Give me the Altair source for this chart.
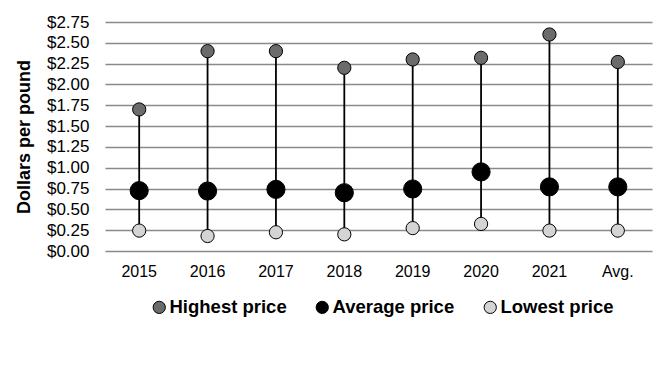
import altair as alt
import pandas as pd

years = ["2015", "2016", "2017", "2018", "2019", "2020", "2021", "Avg."]
highest = [1.70, 2.40, 2.40, 2.20, 2.30, 2.32, 2.60, 2.27]
average = [0.725, 0.72, 0.74, 0.70, 0.745, 0.95, 0.77, 0.77]
lowest = [0.245, 0.18, 0.225, 0.20, 0.275, 0.325, 0.245, 0.245]
series = ["Highest price", "Average price", "Lowest price"]
colors = ["#6b6b6b", "#000000", "#d4d4d4"]
y_ticks = [0.0, 0.25, 0.5, 0.75, 1.0, 1.25, 1.5, 1.75, 2.0, 2.25, 2.5, 2.75]

df = pd.DataFrame({
    "Year": years,
    "Highest price": highest,
    "Average price": average,
    "Lowest price": lowest,
})

FONT = "Liberation Sans"

x_axis = alt.Axis(title=None, labelAngle=0, domain=False, ticks=False,
                  labelFontSize=16, labelPadding=12, labelColor="black",
                  labelFont=FONT, grid=False)
x_scale = alt.Scale(paddingInner=0, paddingOuter=0)

y_axis = alt.Axis(title="Dollars per pound", values=y_ticks, format="$.2f",
                  tickCount=12,
                  grid=True, gridColor="#8a8a8a", gridWidth=1.4,
                  domain=False, ticks=False, labelFontSize=17,
                  labelOverlap=False, labelBound=False,
                  labelPadding=16, labelColor="black", labelFont=FONT,
                  titleFont=FONT, titleFontSize=18, titleFontWeight="bold",
                  titleColor="black", titlePadding=13)
y_scale = alt.Scale(domain=[0, 2.75], nice=False, zero=True)

rules = alt.Chart(df).mark_rule(color="black", strokeWidth=1.8).encode(
    x=alt.X("Year:N", sort=years, scale=x_scale, axis=x_axis),
    y=alt.Y("Lowest price:Q", scale=y_scale, axis=y_axis),
    y2="Highest price:Q",
)

points = alt.Chart(df).transform_fold(
    series, as_=["Series", "Value"]
).mark_circle(opacity=1, stroke="black", strokeWidth=1).encode(
    x=alt.X("Year:N", sort=years, scale=x_scale, axis=x_axis),
    y=alt.Y("Value:Q", scale=y_scale, axis=y_axis),
    color=alt.Color("Series:N", scale=alt.Scale(domain=series, range=colors),
                    legend=alt.Legend(title=None, orient="none", direction="horizontal",
                                      legendX=45, legendY=276, labelFontSize=18.5,
                                      labelFontWeight="bold", labelFont=FONT,
                                      labelColor="black", symbolType="circle",
                                      symbolSize=150, symbolStrokeColor="black",
                                      symbolStrokeWidth=1,
                                      labelOffset=1, columnPadding=26, padding=0)),
    size=alt.condition(alt.datum.Series == "Average price", alt.value(330), alt.value(175)),
)

chart = alt.layer(rules, points).properties(
    width=547, height=229,
    autosize=alt.AutoSizeParams(type="none"),
    padding={"left": 97, "top": 14, "right": 8, "bottom": 130},
).configure_view(stroke=None).configure_axisY(labelOverlap=False, tickCount=12)

chart.save("out.html", embed_options={"renderer": "svg", "actions": False})
